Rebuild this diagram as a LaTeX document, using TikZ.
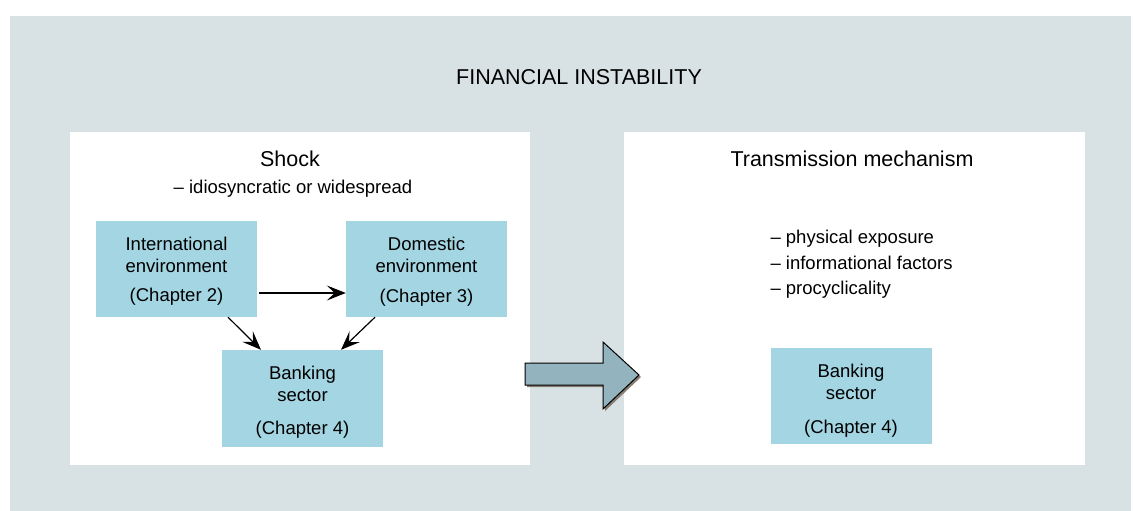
\documentclass[tikz,border=0pt]{standalone}
\usepackage{fontspec}
\setmainfont{Liberation Sans}
\usepackage{tikz}
\usetikzlibrary{arrows.meta,calc,positioning}
\definecolor{panelgray}{HTML}{D8E1E4}
\definecolor{boxblue}{HTML}{A3D5E3}
\definecolor{bigarrow}{HTML}{93B3BF}
\definecolor{arrowshade}{HTML}{857B70}
\newcommand{\topgap}[1]{\rule{0pt}{#1}}
\tikzset{
  chapbox/.style={fill=boxblue,minimum width=161pt,minimum height=96pt,align=center,inner sep=0pt,
    font=\fontsize{18.5}{22}\selectfont},
  heading/.style={font=\fontsize{21.5}{26}\selectfont},
  bodytext/.style={font=\fontsize{18.5}{25.5}\selectfont,align=left},
  link/.style={->,line width=1.2pt,>={Stealth[length=19pt,width=15pt,inset=8pt]}}
}

\begin{document}
\begin{tikzpicture}[x=1pt,y=-1pt,line join=miter]
\useasboundingbox (0,0) rectangle (1133,511);
% background panel and the two white areas
\fill[panelgray] (10,16) rectangle (1131,511);
\fill[white] (70,132) rectangle (530,465);
\fill[white] (624,132) rectangle (1085,465);
% titles
\node[heading] (title) at (579,77) {FINANCIAL INSTABILITY};
\node[heading] (shock) at (290,159) {Shock};
\node[bodytext] (shocktype) at (293,189) {-- idiosyncratic or widespread};
\node[bodytext,anchor=north west] (channels) at (767,227) {-- physical exposure\\-- informational factors\\-- procyclicality};
\node[heading] (trans) at (852,159) {Transmission mechanism};
% blue boxes
\node[chapbox] (intl) at (176.5,269) {\topgap{18pt}International\\environment\\[7pt](Chapter 2)};
\node[chapbox] (dom) at (426.5,269) {\topgap{19pt}Domestic\\environment\\[8pt](Chapter 3)};
\node[chapbox,minimum height=97pt] (bank) at (302.5,398.5) {\topgap{21pt}Banking\\sector\\[11pt](Chapter 4)};
\node[chapbox] (bankr) at (851,396) {\topgap{22pt}Banking\\sector\\[12pt](Chapter 4)};
% links between boxes
\draw[link] ([xshift=2pt,yshift=-24pt]intl.east) -- ([yshift=-24pt]dom.west);
\draw[link] ([xshift=51.5pt]intl.south) -- ([xshift=-41.5pt]bank.north);
\draw[link] ([xshift=-51.5pt]dom.south) -- ([xshift=38.5pt]bank.north);
% big block arrow with shadow
\fill[arrowshade] (527,365) -- (605,365) -- (605,344) -- (641,377) -- (605,411) -- (605,387) -- (527,387) -- cycle;
\draw[fill=bigarrow,line width=1pt] (525,363) -- (603,363) -- (603,342) -- (639,375) -- (603,409) -- (603,385) -- (525,385) -- cycle;
\end{tikzpicture}
\end{document}
